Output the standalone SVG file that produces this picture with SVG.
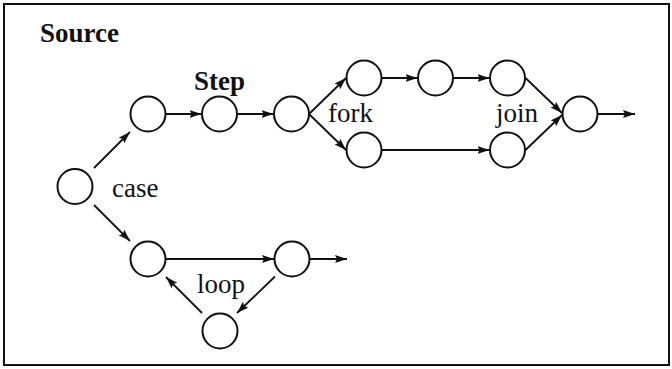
<svg xmlns="http://www.w3.org/2000/svg" width="672" height="369" viewBox="0 0 672 369">
<style>
.frame{fill:#fff;stroke:#111;stroke-width:2}
.node{fill:#fff;stroke:#111;stroke-width:2}
.edge{stroke:#111;stroke-width:1.8;fill:none;marker-end:url(#arr)}
.lbl{font-family:"Liberation Serif","Times New Roman",serif;font-size:27px;fill:#111}
.b{font-weight:bold}
</style>
<defs>
<marker id="arr" markerUnits="userSpaceOnUse" markerWidth="13" markerHeight="9" refX="12" refY="4" orient="auto">
<path d="M0,0 L12,4 L0,8 L2,4 z" fill="#111"/>
</marker>
</defs>
<rect class="frame" x="4" y="4" width="665" height="361"/>
<text class="lbl b" x="40" y="42">Source</text>
<g id="connectors">
<line class="edge" x1="94" y1="168" x2="130" y2="132"/>
<line class="edge" x1="94" y1="205" x2="130" y2="241"/>
<line class="edge" x1="166" y1="114" x2="201.5" y2="114"/>
<line class="edge" x1="237.5" y1="114" x2="273.5" y2="114"/>
<line class="edge" x1="309" y1="114" x2="346" y2="78"/>
<line class="edge" x1="309" y1="114" x2="346" y2="150"/>
<line class="edge" x1="382" y1="78" x2="417.5" y2="78"/>
<line class="edge" x1="453.5" y1="78" x2="489.5" y2="78"/>
<line class="edge" x1="382" y1="150" x2="489.5" y2="150"/>
<line class="edge" x1="525.5" y1="78" x2="562" y2="113"/>
<line class="edge" x1="525.5" y1="150" x2="562" y2="115"/>
<line class="edge" x1="598" y1="114" x2="635" y2="114"/>
<line class="edge" x1="166" y1="259" x2="274" y2="259"/>
<line class="edge" x1="310" y1="259" x2="347" y2="259"/>
<line class="edge" x1="275" y1="276.5" x2="237" y2="313"/>
<line class="edge" x1="202" y1="313" x2="166" y2="277"/>
</g>
<g id="case"><circle class="node" cx="75" cy="186.5" r="17.5"/><text class="lbl" x="112" y="197">case</text></g>
<g id="n1"><circle class="node" cx="148" cy="114" r="17.5"/></g>
<g id="step"><circle class="node" cx="219.5" cy="114" r="17.5"/><text class="lbl b" x="194" y="90">Step</text></g>
<g id="fork"><circle class="node" cx="291.5" cy="114" r="17.5"/><text class="lbl" x="328" y="122">fork</text></g>
<g id="t1"><circle class="node" cx="364" cy="78" r="17.5"/></g>
<g id="t2"><circle class="node" cx="435.5" cy="78" r="17.5"/></g>
<g id="t3"><circle class="node" cx="507.5" cy="78" r="17.5"/></g>
<g id="b1"><circle class="node" cx="364" cy="150" r="17.5"/></g>
<g id="b2"><circle class="node" cx="507.5" cy="150" r="17.5"/></g>
<g id="join"><circle class="node" cx="580" cy="114" r="17.5"/><text class="lbl" x="496" y="122">join</text></g>
<g id="l1"><circle class="node" cx="148" cy="259" r="17.5"/></g>
<g id="l2"><circle class="node" cx="292" cy="259" r="17.5"/></g>
<g id="loop"><circle class="node" cx="220" cy="331" r="17.5"/><text class="lbl" x="197" y="293">loop</text></g>
</svg>
